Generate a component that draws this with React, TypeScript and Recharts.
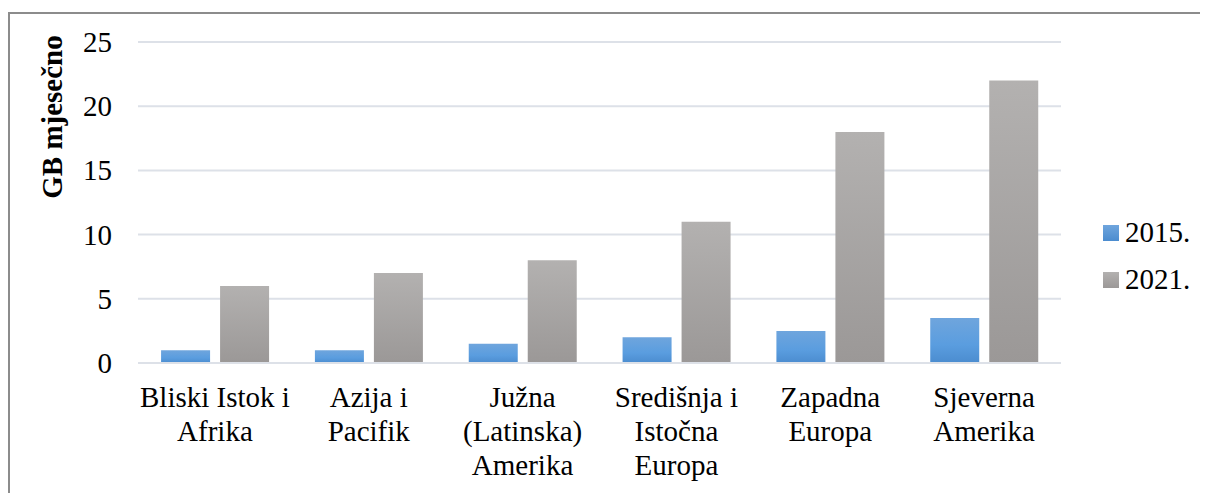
import React from "react";
import { BarChart, Bar, XAxis, YAxis, CartesianGrid, Legend } from "recharts";

const categories = [
  "Bliski Istok i\nAfrika",
  "Azija i\nPacifik",
  "Južna\n(Latinska)\nAmerika",
  "Središnja i\nIstočna\nEuropa",
  "Zapadna\nEuropa",
  "Sjeverna\nAmerika",
];
const values2015 = [1, 1, 1.5, 2, 2.5, 3.5];
const values2021 = [6, 7, 8, 11, 18, 22];
const yTicks = [0, 5, 10, 15, 20, 25];
const seriesNames = ["2015.", "2021."];

const data = categories.map((c, i) => ({
  name: c,
  a: values2015[i],
  b: values2021[i],
}));

const FONT = "Liberation Serif";

const XTick = (props: any) => {
  const { x, y, payload } = props;
  const lines = String(payload.value).split("\n");
  return (
    <g>
      {lines.map((l: string, i: number) => (
        <text
          key={i}
          x={x}
          y={y + 36 + i * 34}
          textAnchor="middle"
          style={{ fontFamily: FONT, fontSize: 29 }}
          fill="#000"
        >
          {l}
        </text>
      ))}
    </g>
  );
};

const YTick = (props: any) => {
  const { x, y, payload } = props;
  return (
    <text
      x={x}
      y={y + 10}
      textAnchor="end"
      style={{ fontFamily: FONT, fontSize: 29 }}
      fill="#000"
    >
      {payload.value}
    </text>
  );
};

const LegendContent = () => (
  <div style={{ fontFamily: FONT, fontSize: 29, color: "#000" }}>
    {seriesNames.map((n, i) => (
      <div
        key={n}
        style={{ display: "flex", alignItems: "center", height: 47, lineHeight: "47px" }}
      >
        <div
          style={{
            width: 16,
            height: 16,
            marginRight: 6,
            background:
              i === 0
                ? "linear-gradient(#6fa5dd, #4b8ccf)"
                : "linear-gradient(#b3b1b0, #9b9897)",
          }}
        />
        <span>{n}</span>
      </div>
    ))}
  </div>
);

export default function App() {
  return (
    <div
      style={{
        marginTop: 4,
        width: 1220,
        height: 500,
        borderTop: "2px solid #8c8c8c",
        borderLeft: "2px solid #8c8c8c",
        position: "relative",
        background: "#fff",
        fontFamily: FONT,
      }}
    >
      <BarChart
        width={1190}
        height={480}
        data={data}
        margin={{ top: 28, right: 139, bottom: 11, left: 0 }}
        barCategoryGap="15%"
        barGap={10}
        style={{ fontFamily: FONT }}
      >
        <defs>
          <linearGradient id="gBlue" x1="0" y1="0" x2="0" y2="1">
            <stop offset="0%" stopColor="#6fa5dd" />
            <stop offset="60%" stopColor="#5a9ddf" />
            <stop offset="100%" stopColor="#4b8ccf" />
          </linearGradient>
          <linearGradient id="gGray" x1="0" y1="0" x2="0" y2="1">
            <stop offset="0%" stopColor="#b3b1b0" />
            <stop offset="100%" stopColor="#9b9897" />
          </linearGradient>
        </defs>
        <CartesianGrid vertical={false} stroke="#dde1e8" strokeWidth={2} />
        <XAxis
          dataKey="name"
          height={120}
          tickLine={false}
          axisLine={{ stroke: "#dde1e8", strokeWidth: 2 }}
          tick={<XTick />}
          interval={0}
        />
        <YAxis
          width={128}
          domain={[0, 25]}
          ticks={yTicks}
          tickLine={false}
          axisLine={false}
          tickSize={0}
          tickMargin={26}
          tick={<YTick />}
          label={{
            content: () => (
              <text
                x={42}
                y={103}
                transform="rotate(-90 42 103)"
                textAnchor="middle"
                dominantBaseline="central"
                style={{ fontFamily: FONT, fontSize: 29, fontWeight: "bold" }}
                fill="#000"
              >
                GB mjesečno
              </text>
            ),
          }}
        />
        <Legend
          layout="vertical"
          align="center"
          verticalAlign="middle"
          content={<LegendContent />}
          wrapperStyle={{ left: 1093, top: 195, width: 100 }}
        />
        <Bar dataKey="a" name={seriesNames[0]} fill="url(#gBlue)" isAnimationActive={false} />
        <Bar dataKey="b" name={seriesNames[1]} fill="url(#gGray)" isAnimationActive={false} />
      </BarChart>
    </div>
  );
}
